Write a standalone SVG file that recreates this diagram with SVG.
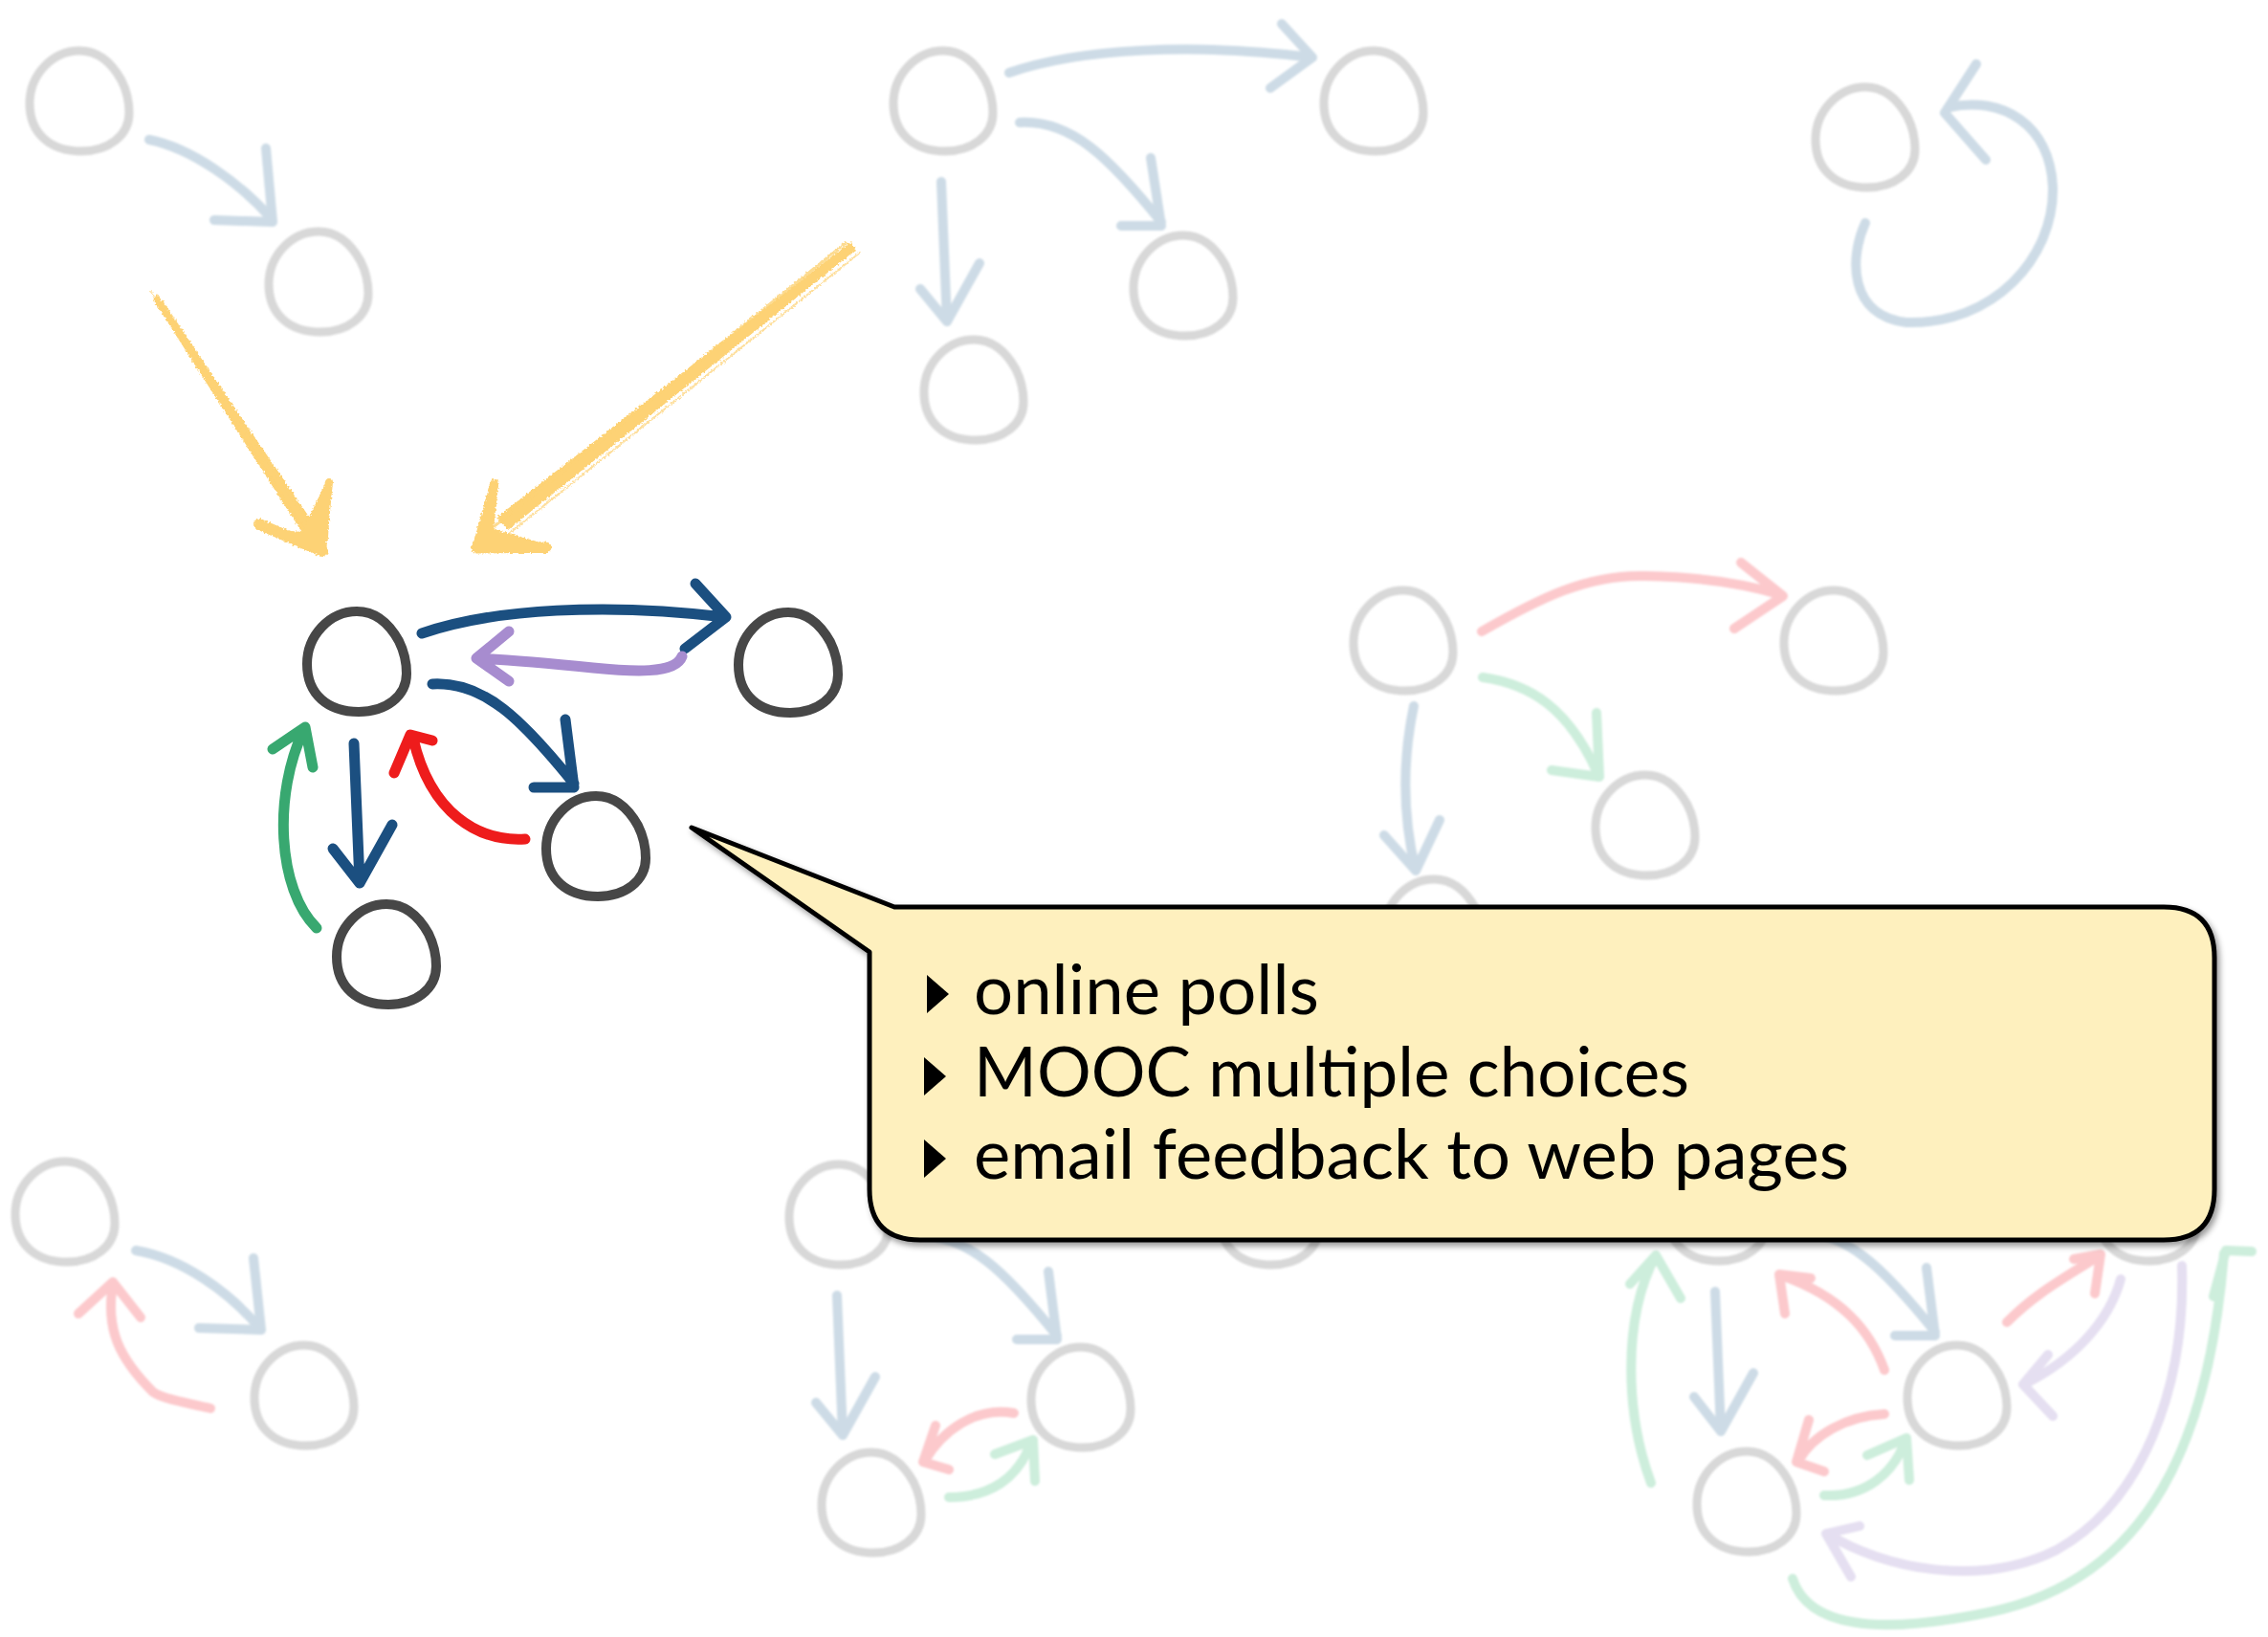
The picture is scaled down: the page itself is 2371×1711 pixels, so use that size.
<svg xmlns="http://www.w3.org/2000/svg" xmlns:xlink="http://www.w3.org/1999/xlink" width="2371" height="1711" viewBox="0 0 2371 1711">
  <defs>
    <style>
      .node{fill:none;stroke:#474747;stroke-width:10;stroke-linecap:round;stroke-linejoin:round}
      .ghost{fill:none;stroke:#d8d8d8;stroke-width:9;stroke-linecap:round;stroke-linejoin:round}
      .a{fill:none;stroke-width:10;stroke-linecap:round;stroke-linejoin:round}
      .main .a{stroke-width:11}
      .blue{stroke:#1b4f80}
      .purple{stroke:#a78ccf}
      .red{stroke:#ee1c1c}
      .green{stroke:#38a870}
      .fblue{stroke:#cddbe6}
      .fred{stroke:#fcc9cc}
      .fgreen{stroke:#cdeedc}
      .fpurple{stroke:#e5dff1}
      .hi{fill:none;stroke:#fdd274;stroke-linecap:round;stroke-linejoin:round}
      .hifill{fill:#fdd274}
      .item{font-family:Lato,"Open Sans","Liberation Sans",sans-serif;font-size:72px;fill:#000}
    </style>
    <!-- hand-drawn node outline, centred on 0,0 -->
    <path id="egg" d="M0,-53 C20,-53 34,-40 44,-22 C50,-10 52,0 52,12 C52,36 30,52 2,52 C-30,52 -52,34 -52,2 C-52,-28 -28,-53 0,-53 Z"/>
    <filter id="soft" x="-5%" y="-5%" width="110%" height="110%">
      <feGaussianBlur stdDeviation="1.2"/>
    </filter>
    <filter id="rough" x="-10%" y="-10%" width="120%" height="120%">
      <feTurbulence type="fractalNoise" baseFrequency="0.5" numOctaves="2" seed="3" result="noise"/>
      <feDisplacementMap in="SourceGraphic" in2="noise" scale="5" xChannelSelector="R" yChannelSelector="G"/>
    </filter>
    <filter id="shadow" x="-5%" y="-5%" width="110%" height="115%">
      <feDropShadow dx="3" dy="4" stdDeviation="3" flood-color="#000" flood-opacity="0.4"/>
    </filter>
  </defs>

  <rect width="2371" height="1711" fill="#ffffff"/>

  <!-- connectors -->
  <g id="connectors">
    <g id="faint-connectors" filter="url(#soft)">
      <!-- top-left pair -->
      <path class="a fblue" d="M156,146 C200,155 250,190 285,230 M278,155 L285,232 L224,230"/>
      <!-- top-middle cluster -->
      <path class="a fblue" d="M1055,76 C1130,50 1250,45 1372,60 M1340,25 L1372,60 L1328,92"/>
      <path class="a fblue" d="M1066,128 C1120,125 1160,165 1214,232 M1203,165 L1214,236 L1172,236"/>
      <path class="a fblue" d="M984,190 L990,336 M962,302 L990,336 L1024,275"/>
      <!-- self loop -->
      <path class="a fblue" d="M1950,233 C1933,270 1933,330 1993,337 C2083,340 2148,270 2146,195 C2143,130 2093,100 2038,112 M2066,67 L2033,118 L2076,167"/>
      <!-- right-middle cluster -->
      <path class="a fred" d="M1549,660 C1610,625 1660,600 1720,602 C1780,603 1830,612 1863,622 M1820,588 L1864,623 L1813,657"/>
      <path class="a fgreen" d="M1550,708 C1600,715 1640,740 1671,810 M1669,745 L1672,812 L1622,805"/>
      <path class="a fblue" d="M1478,738 C1465,800 1468,860 1480,910 M1447,873 L1480,910 L1505,857"/>
      <!-- bottom-left pair -->
      <path class="a fblue" d="M142,1307 C190,1315 240,1350 273,1390 M265,1315 L273,1390 L208,1388"/>
      <path class="a fred" d="M220,1472 C190,1465 170,1462 160,1455 C125,1420 110,1390 118,1342 M82,1373 L118,1340 L147,1377"/>
      <!-- bottom-middle cluster -->
      <path class="a fblue" d="M875,1354 L881,1500 M853,1466 L881,1500 L915,1439"/>
      <path class="a fblue" d="M957,1292 C1011,1289 1051,1329 1105,1396 M1096,1329 L1105,1400 L1063,1400"/>
      <path class="a fred" d="M1060,1477 C1020,1470 985,1495 966,1528 M978,1490 L965,1528 L992,1536"/>
      <path class="a fgreen" d="M992,1565 C1035,1565 1065,1545 1078,1507 M1040,1520 L1080,1505 L1082,1548"/>
      <!-- bottom-right cluster -->
      <path class="a fgreen" d="M1726,1550 C1700,1480 1695,1380 1731,1312 M1704,1342 L1731,1312 L1757,1357"/>
      <path class="a fblue" d="M1793,1350 L1799,1496 M1771,1460 L1799,1496 L1833,1435"/>
      <path class="a fblue" d="M1875,1288 C1929,1285 1969,1325 2023,1392 M2014,1325 L2023,1396 L1981,1396"/>
      <path class="a fred" d="M1970,1432 C1955,1390 1925,1355 1862,1333 M1866,1373 L1860,1332 L1893,1336"/>
      <path class="a fred" d="M1970,1478 C1930,1480 1895,1500 1880,1527 M1891,1484 L1878,1528 L1907,1538"/>
      <path class="a fgreen" d="M1907,1563 C1950,1565 1980,1540 1992,1505 M1952,1521 L1993,1503 L1996,1547"/>
      <path class="a fred" d="M2098,1382 C2130,1350 2160,1335 2195,1312 M2168,1316 L2196,1311 L2190,1352"/>
      <path class="a fpurple" d="M2217,1337 C2205,1380 2170,1420 2116,1447 M2141,1416 L2115,1447 L2146,1480"/>
      <path class="a fpurple" d="M2281,1323 C2285,1450 2240,1570 2150,1620 C2070,1660 1970,1640 1910,1603 M1944,1595 L1909,1603 L1935,1648"/>
      <path class="a fgreen" d="M1874,1650 C1890,1700 1960,1710 2080,1685 C2250,1650 2310,1500 2325,1310 M2314,1355 L2327,1307 L2354,1308"/>
    </g>

    <!-- highlighted cluster -->
    <g id="main-connectors" class="main">
      <path class="a blue" d="M441,662 C516,636 636,630 758,645 M727,610 L759,645 L716,678"/>
      <path class="a purple" d="M713,686 C706,705 660,702 620,698 C580,694 540,690 498,688 M532,660 L498,688 L532,712"/>
      <path class="a blue" d="M452,715 C506,712 546,752 600,819 M591,752 L600,823 L558,823"/>
      <path class="a blue" d="M370,777 L376,923 M348,887 L376,923 L410,862"/>
      <path class="a red" d="M549,877 C500,880 450,850 432,772 M412,808 L429,768 L452,774"/>
      <path class="a green" d="M331,970 C290,930 285,830 318,762 M285,783 L319,760 L327,802"/>
    </g>

    <!-- sketched pointer arrows -->
    <g id="pointer-arrows" filter="url(#rough)">
      <polygon class="hifill" points="164,307 160,313 325,571 338,562"/>
      <path class="hi" stroke-width="3" opacity="0.8" d="M169,315 L340,572"/>
      <path class="hi" stroke-width="2" opacity="0.7" d="M158,305 L327,567"/>
      <path class="hi" stroke-width="12" d="M271,548 L337,576"/>
      <path class="hi" stroke-width="8" d="M344,504 L337,576"/>
      <polygon class="hifill" points="338,580 270,552 316,556 340,505 346,507 343,562"/>

      <polygon class="hifill" points="889,253 895,261 531,554 519,541"/>
      <path class="hi" stroke-width="3" opacity="0.8" d="M884,254 L497,566"/>
      <path class="hi" stroke-width="2" opacity="0.7" d="M899,264 L508,577"/>
      <path class="hi" stroke-width="9" d="M517,505 L498,573"/>
      <path class="hi" stroke-width="11" d="M571,572 L498,573"/>
      <polygon class="hifill" points="495,578 514,505 521,507 516,553 572,569 573,578"/>
    </g>
  </g>

  <!-- background graphs -->
  <g id="background-nodes" filter="url(#soft)">
    <g id="node-tl1"><use xlink:href="#egg" class="ghost" transform="translate(83,106)"/></g>
    <g id="node-tl2"><use xlink:href="#egg" class="ghost" transform="translate(333,295)"/></g>
    <g id="node-tm1"><use xlink:href="#egg" class="ghost" transform="translate(986,106)"/></g>
    <g id="node-tm2"><use xlink:href="#egg" class="ghost" transform="translate(1436,106)"/></g>
    <g id="node-tm3"><use xlink:href="#egg" class="ghost" transform="translate(1237,299)"/></g>
    <g id="node-tm4"><use xlink:href="#egg" class="ghost" transform="translate(1018,408)"/></g>
    <g id="node-tr"><use xlink:href="#egg" class="ghost" transform="translate(1950,144)"/></g>
    <g id="node-rm1"><use xlink:href="#egg" class="ghost" transform="translate(1467,670)"/></g>
    <g id="node-rm2"><use xlink:href="#egg" class="ghost" transform="translate(1917,670)"/></g>
    <g id="node-rm3"><use xlink:href="#egg" class="ghost" transform="translate(1720,863)"/></g>
    <g id="node-rm4"><use xlink:href="#egg" class="ghost" transform="translate(1499,972)"/></g>
    <g id="node-bl1"><use xlink:href="#egg" class="ghost" transform="translate(68,1267)"/></g>
    <g id="node-bl2"><use xlink:href="#egg" class="ghost" transform="translate(318,1459)"/></g>
    <g id="node-bm1"><use xlink:href="#egg" class="ghost" transform="translate(877,1270)"/></g>
    <g id="node-bm2"><use xlink:href="#egg" class="ghost" transform="translate(1130,1461)"/></g>
    <g id="node-bm3"><use xlink:href="#egg" class="ghost" transform="translate(911,1571)"/></g>
    <g id="node-bm4"><use xlink:href="#egg" class="ghost" transform="translate(1327,1270)"/></g>
    <g id="node-br1"><use xlink:href="#egg" class="ghost" transform="translate(1795,1266)"/></g>
    <g id="node-br2"><use xlink:href="#egg" class="ghost" transform="translate(2245,1266)"/></g>
    <g id="node-br3"><use xlink:href="#egg" class="ghost" transform="translate(2046,1459)"/></g>
    <g id="node-br4"><use xlink:href="#egg" class="ghost" transform="translate(1826,1570)"/></g>
  </g>

  <!-- highlighted graph -->
  <g id="node-a"><use xlink:href="#egg" class="node" transform="translate(373,692)"/></g>
  <g id="node-b"><use xlink:href="#egg" class="node" transform="translate(824,693)"/></g>
  <g id="node-c"><use xlink:href="#egg" class="node" transform="translate(623,885)"/></g>
  <g id="node-d"><use xlink:href="#egg" class="node" transform="translate(404,998)"/></g>

  <!-- speech bubble -->
  <g id="callout">
    <path filter="url(#shadow)" fill="#fef0be" stroke="#000" stroke-width="5" stroke-linejoin="round"
          d="M935,948 L2262,948 Q2315,948 2315,1001 L2315,1243 Q2315,1296 2262,1296 L962,1296 Q909,1296 909,1243 L909,995 L723,865 Z"/>
    <polygon points="969,1019 969,1059 992,1039" fill="#000"/>
    <text class="item" x="1018" y="1060" textLength="361" lengthAdjust="spacingAndGlyphs">online polls</text>
    <polygon points="966,1105 966,1145 989,1125" fill="#000"/>
    <text class="item" x="1018" y="1146" textLength="748" lengthAdjust="spacingAndGlyphs">MOOC multiple choices</text>
    <polygon points="966,1191 966,1231 989,1211" fill="#000"/>
    <text class="item" x="1018" y="1232" textLength="915" lengthAdjust="spacingAndGlyphs">email feedback to web pages</text>
  </g>
</svg>
